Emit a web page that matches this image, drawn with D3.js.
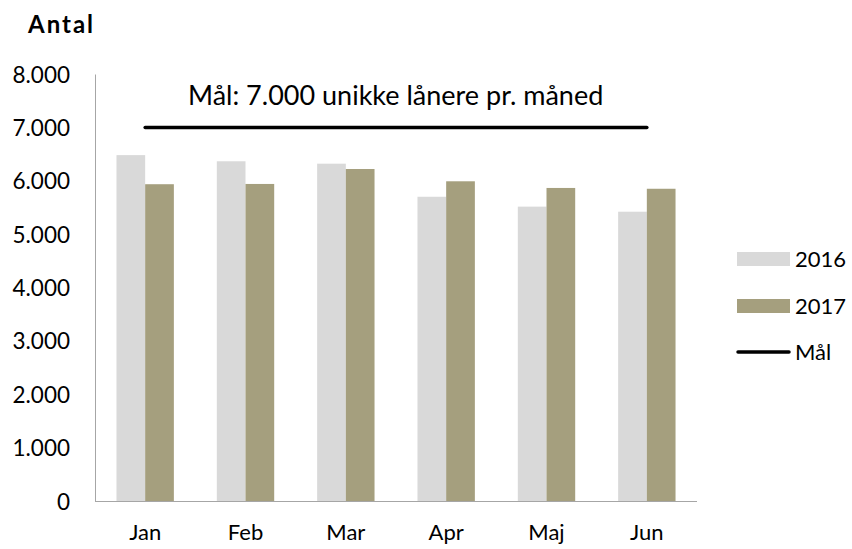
<!DOCTYPE html>
<html>
<head>
<meta charset="utf-8">
<script src="https://cdn.jsdelivr.net/npm/d3@7"></script>
<style>
  body { margin: 0; background: #fff; }
  svg text { font-family: Lato, "Open Sans", sans-serif; fill: #000; }
</style>
</head>
<body>
<div id="chart"></div>
<script>
// chart data
var months = ["Jan", "Feb", "Mar", "Apr", "Maj", "Jun"];
var values2016 = [6480, 6365, 6320, 5700, 5515, 5420];
var values2017 = [5935, 5940, 6220, 5990, 5865, 5850];
var goalValues = [7000, 7000, 7000, 7000, 7000, 7000];
var seriesNames = ["2016", "2017"];
var yTicks = [0, 1000, 2000, 3000, 4000, 5000, 6000, 7000, 8000];

var width = 852, height = 549;
var colors = { "2016": "#d9d9d9", "2017": "#a59f7e" };

var svg = d3.select("#chart")
    .append("svg")
    .attr("width", width)
    .attr("height", height);

var plot = { left: 95, right: 697, top: 74, bottom: 501 };

var x = d3.scaleBand()
    .domain(months)
    .range([plot.left, plot.right])
    .paddingInner(0.428)
    .paddingOuter(0.214);

var x1 = d3.scaleBand()
    .domain(seriesNames)
    .range([0, x.bandwidth()]);

var y = d3.scaleLinear()
    .domain([0, 8000])
    .range([plot.bottom, plot.top]);

// bars
var rows = months.map(function(m, i) {
    return { month: m, values: [
        { key: "2016", value: values2016[i] },
        { key: "2017", value: values2017[i] }
    ] };
});

svg.append("g").selectAll("g")
    .data(rows)
    .join("g")
    .attr("transform", function(d) { return "translate(" + x(d.month) + ",0)"; })
    .selectAll("rect")
    .data(function(d) { return d.values; })
    .join("rect")
    .attr("x", function(d) { return x1(d.key); })
    .attr("width", x1.bandwidth())
    .attr("y", function(d) { return y(d.value); })
    .attr("height", function(d) { return y(0) - y(d.value); })
    .attr("fill", function(d) { return colors[d.key]; });

// y axis
var yAxis = svg.append("g")
    .attr("transform", "translate(" + plot.left + ",0)")
    .call(d3.axisLeft(y).tickValues(yTicks).tickSize(0).tickPadding(25)
        .tickFormat(function(d) { return d3.format(",")(d).replace(/,/g, "."); }));
yAxis.select(".domain").attr("stroke", "#a6a6a6");
yAxis.selectAll("text").style("font-size", "22.5px").attr("dy", "0.36em");

// x axis
var xAxis = svg.append("g")
    .attr("transform", "translate(0," + plot.bottom + ")")
    .call(d3.axisBottom(x).tickSize(0).tickPadding(23));
xAxis.select(".domain").attr("stroke", "#a6a6a6").attr("d", "M" + plot.left + ",0.5H" + plot.right);
xAxis.selectAll("text").style("font-size", "22px");

// goal line
var line = d3.line()
    .x(function(d, i) { return x(months[i]) + x.bandwidth() / 2; })
    .y(function(d) { return y(d); });

svg.append("path")
    .datum(goalValues)
    .attr("d", line)
    .attr("fill", "none")
    .attr("stroke", "#000")
    .attr("stroke-width", 3.5)
    .attr("stroke-linecap", "round");

svg.append("text")
    .attr("x", 188)
    .attr("y", 105)
    .style("font-size", "27px")
    .text("Mål: 7.000 unikke lånere pr. måned");

// title
svg.append("text")
    .attr("x", 28)
    .attr("y", 33)
    .style("font-size", "24px")
    .style("font-weight", "bold")
    .style("letter-spacing", "2px")
    .text("Antal");

// legend
var legendItems = [
    { label: "2016", type: "rect", color: colors["2016"], y: 259 },
    { label: "2017", type: "rect", color: colors["2017"], y: 306 },
    { label: "Mål", type: "line", color: "#000", y: 352 }
];

var legend = svg.append("g").selectAll("g")
    .data(legendItems)
    .join("g")
    .attr("transform", function(d) { return "translate(737," + d.y + ")"; });

legend.filter(function(d) { return d.type === "rect"; })
    .append("rect")
    .attr("x", 0).attr("y", -7)
    .attr("width", 53).attr("height", 14)
    .attr("fill", function(d) { return d.color; });

legend.filter(function(d) { return d.type === "line"; })
    .append("line")
    .attr("x1", 1).attr("x2", 52)
    .attr("stroke", "#000").attr("stroke-width", 3.5)
    .attr("stroke-linecap", "round");

legend.append("text")
    .attr("x", 58)
    .attr("dy", "0.36em")
    .style("font-size", "22px")
    .text(function(d) { return d.label; });
</script>
</body>
</html>
